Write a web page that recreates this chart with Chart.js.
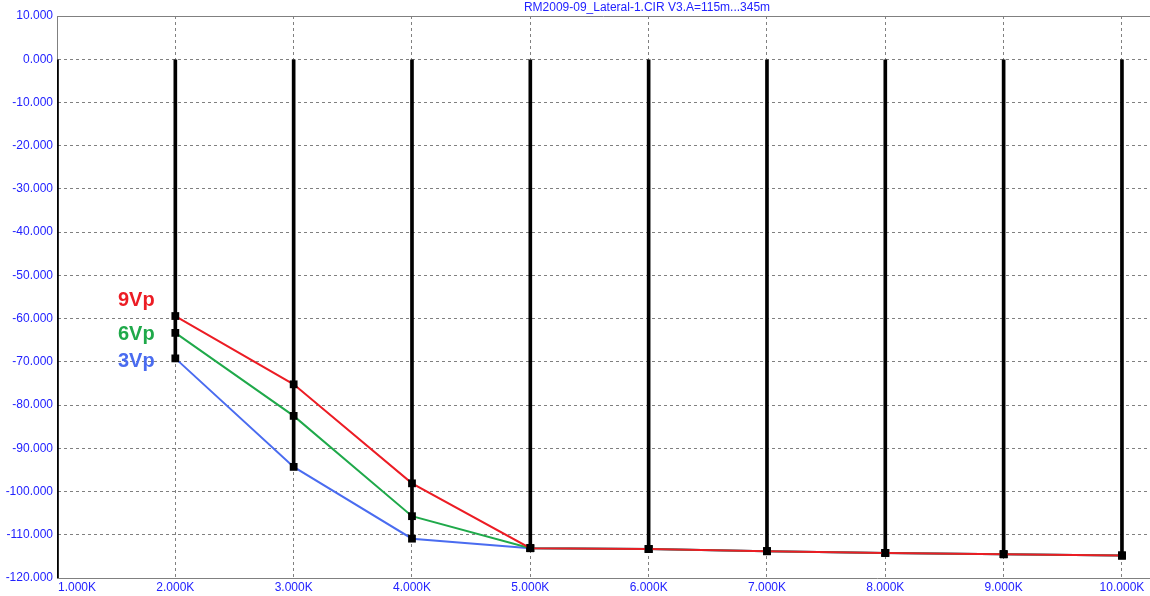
<!DOCTYPE html>
<html>
<head>
<meta charset="utf-8">
<script src="https://cdn.jsdelivr.net/npm/chart.js@4.4.1/dist/chart.umd.min.js"></script>
<style>
  html, body { margin: 0; padding: 0; background: #fff; }
  #wrap { width: 1150px; height: 596px; }
</style>
</head>
<body>
<div id="wrap"><canvas id="myChart"></canvas></div>
<script>
// harmonic frequencies (Hz) and levels (dB)
const freqs = [2000, 3000, 4000, 5000, 6000, 7000, 8000, 9000, 10000];
const vp9 = [-59.4, -75.2, -98.1, -113.1, -113.3, -113.8, -114.2, -114.5, -114.8];
const vp6 = [-63.3, -82.5, -105.7, -113.1, -113.3, -113.8, -114.2, -114.5, -114.8];
const vp3 = [-69.2, -94.3, -110.9, -113.1, -113.3, -113.8, -114.2, -114.5, -114.8];
const fundamentalFreq = 1000;
const fundamentalBottom = -120;
const xTicks = [1000, 2000, 3000, 4000, 5000, 6000, 7000, 8000, 9000, 10000];

const RED = "#ec1c24", GREEN = "#1fa94a", BLUE = "#4a6cf0";
const TEXT_BLUE = "#2222ff";
const FONT = "Arial, 'Liberation Sans', sans-serif";

// stems from 0 down to the lowest trace at each harmonic
const stems = [{ x: fundamentalFreq, y: [0, fundamentalBottom] }].concat(
  freqs.map((f, i) => ({ x: f, y: [0, Math.min(vp9[i], vp6[i], vp3[i])] }))
);

const pts = (vals) => freqs.map((f, i) => ({ x: f, y: vals[i] }));

const lineStyle = (color, order) => ({
  type: "line",
  borderColor: color,
  borderWidth: 2,
  tension: 0,
  pointStyle: "rect",
  pointRadius: 5.5,
  pointBackgroundColor: "#000",
  pointBorderColor: "#000",
  pointBorderWidth: 0,
  order: order,
});

const overlay = {
  id: "overlay",
  afterDraw(chart) {
    const { ctx, chartArea: a, scales: { x, y } } = chart;
    ctx.save();
    // solid top frame line
    ctx.strokeStyle = "#808080";
    ctx.lineWidth = 1;
    ctx.beginPath();
    ctx.moveTo(a.left, a.top + 0.5);
    ctx.lineTo(a.right, a.top + 0.5);
    ctx.stroke();

    // x tick labels
    ctx.font = "12px " + FONT;
    ctx.fillStyle = TEXT_BLUE;
    ctx.textBaseline = "middle";
    xTicks.forEach((v, i) => {
      const px = x.getPixelForValue(v);
      const label = (v / 1000).toFixed(3) + "K";
      ctx.textAlign = i === 0 ? "left" : "center";
      ctx.fillText(label, i === 0 ? px + 1 : px, a.bottom + 10);
    });

    // title
    ctx.textAlign = "center";
    ctx.fillText("RM2009-09_Lateral-1.CIR V3.A=115m...345m", 647, 8);

    // series labels
    ctx.font = "bold 20px " + FONT;
    ctx.textAlign = "left";
    const lx = x.getPixelForValue(1515);
    [["9Vp", RED, -55.9], ["6Vp", GREEN, -63.7], ["3Vp", BLUE, -69.9]].forEach(([t, c, v]) => {
      ctx.fillStyle = c;
      ctx.fillText(t, lx, y.getPixelForValue(v));
    });
    ctx.restore();
  },
};

const ctx = document.getElementById("myChart").getContext("2d");
const myChart = new Chart(ctx, {
  data: {
    datasets: [
      { ...lineStyle(RED, 1), label: "9Vp", data: pts(vp9) },
      { ...lineStyle(GREEN, 2), label: "6Vp", data: pts(vp6) },
      { ...lineStyle(BLUE, 3), label: "3Vp", data: pts(vp3) },
      {
        type: "bar",
        label: "stems",
        data: stems,
        backgroundColor: "#000",
        borderWidth: 0,
        barThickness: 3,
        grouped: false,
        order: 10,
      },
    ],
  },
  options: {
    responsive: true,
    maintainAspectRatio: false,
    animation: false,
    layout: { autoPadding: false, padding: { top: 16, right: 0, left: 0, bottom: 0 } },
    plugins: {
      legend: { display: false },
      tooltip: { enabled: false },
    },
    scales: {
      x: {
        type: "linear",
        min: 1000,
        max: 10237,
        offset: false,
        afterFit(scale) { scale.height = 18; },
        afterBuildTicks(scale) { scale.ticks = xTicks.map((v) => ({ value: v })); },
        ticks: { display: false },
        grid: { color: "#808080", lineWidth: 1, drawTicks: false, offset: false },
        border: { display: true, color: "#808080", width: 1, dash: [3, 3] },
      },
      y: {
        type: "linear",
        min: -120,
        max: 10,
        afterFit(scale) { scale.width = 57; },
        ticks: {
          stepSize: 10,
          padding: 4,
          color: TEXT_BLUE,
          font: { family: FONT, size: 12 },
          callback: (v) => v.toFixed(3),
        },
        grid: { color: "#808080", lineWidth: 1, drawTicks: false },
        border: { display: true, color: "#808080", width: 1, dash: [3, 3] },
      },
    },
  },
  plugins: [overlay],
});
</script>
</body>
</html>
